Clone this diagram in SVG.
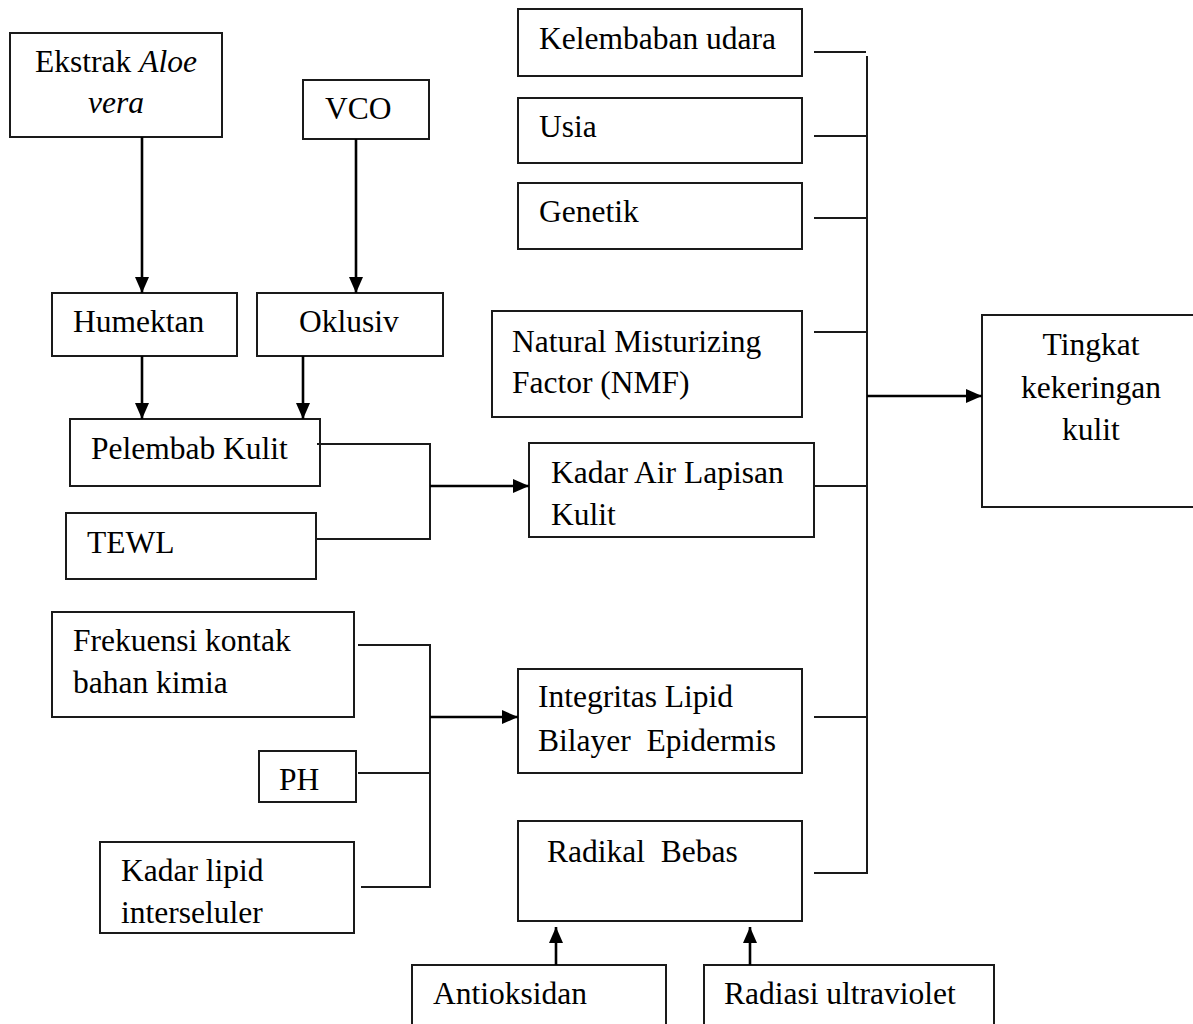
<svg xmlns="http://www.w3.org/2000/svg" width="1193" height="1024" viewBox="0 0 1193 1024">
<style>
.box{fill:#fff;stroke:#1a1a1a;stroke-width:2}
.t{font-family:"Liberation Serif","Times New Roman",serif;font-size:31.5px;fill:#000}
.c{fill:none;stroke:#1a1a1a;stroke-width:2}
.a{fill:none;stroke:#000;stroke-width:2.6;marker-end:url(#ah)}
</style>
<defs>
<marker id="ah" markerUnits="userSpaceOnUse" markerWidth="16" markerHeight="14" refX="16" refY="7" orient="auto">
<path d="M0,0 L16,7 L0,14 z" fill="#000"/>
</marker>
</defs>
<rect width="1193" height="1024" fill="#fff"/>

<g id="ekstrak"><rect class="box" x="10" y="33" width="212" height="104"/><text class="t" x="116" y="72" text-anchor="middle">Ekstrak <tspan font-style="italic">Aloe</tspan></text><text class="t" x="116" y="113" text-anchor="middle" font-style="italic">vera</text></g>
<g id="vco"><rect class="box" x="303" y="80" width="126" height="59"/><text class="t" x="325" y="119">VCO</text></g>
<g id="humektan"><rect class="box" x="52" y="293" width="185" height="63"/><text class="t" x="73" y="332">Humektan</text></g>
<g id="oklusiv"><rect class="box" x="257" y="293" width="186" height="63"/><text class="t" x="299" y="332">Oklusiv</text></g>
<g id="pelembab"><rect class="box" x="70" y="419" width="250" height="67"/><text class="t" x="91" y="459">Pelembab Kulit</text></g>
<g id="tewl"><rect class="box" x="66" y="513" width="250" height="66"/><text class="t" x="87" y="553">TEWL</text></g>
<g id="frekuensi"><rect class="box" x="52" y="612" width="302" height="105"/><text class="t" x="73" y="651">Frekuensi kontak</text><text class="t" x="73" y="693">bahan kimia</text></g>
<g id="ph"><rect class="box" x="259" y="751" width="97" height="51"/><text class="t" x="279" y="790">PH</text></g>
<g id="kadarlipid"><rect class="box" x="100" y="842" width="254" height="91"/><text class="t" x="121" y="881">Kadar lipid</text><text class="t" x="121" y="923">interseluler</text></g>
<g id="kelembaban"><rect class="box" x="518" y="9" width="284" height="67"/><text class="t" x="539" y="49">Kelembaban udara</text></g>
<g id="usia"><rect class="box" x="518" y="98" width="284" height="65"/><text class="t" x="539" y="137">Usia</text></g>
<g id="genetik"><rect class="box" x="518" y="183" width="284" height="66"/><text class="t" x="539" y="222">Genetik</text></g>
<g id="nmf"><rect class="box" x="492" y="311" width="310" height="106"/><text class="t" x="512" y="352">Natural Misturizing</text><text class="t" x="512" y="393">Factor (NMF)</text></g>
<g id="kadarair"><rect class="box" x="529" y="443" width="285" height="94"/><text class="t" x="551" y="483">Kadar Air Lapisan</text><text class="t" x="551" y="525">Kulit</text></g>
<g id="integritas"><rect class="box" x="518" y="669" width="284" height="104"/><text class="t" x="538" y="707">Integritas Lipid</text><text class="t" x="538" y="751" xml:space="preserve">Bilayer  Epidermis</text></g>
<g id="radikal"><rect class="box" x="518" y="821" width="284" height="100"/><text class="t" x="547" y="862" xml:space="preserve">Radikal  Bebas</text></g>
<g id="antioksidan"><rect class="box" x="412" y="965" width="254" height="70"/><text class="t" x="433" y="1004">Antioksidan</text></g>
<g id="radiasi"><rect class="box" x="704" y="965" width="290" height="70"/><text class="t" x="724" y="1004">Radiasi ultraviolet</text></g>
<g id="tingkat"><rect class="box" x="982" y="315" width="220" height="192"/><text class="t" x="1091" y="355" text-anchor="middle">Tingkat</text><text class="t" x="1091" y="398" text-anchor="middle">kekeringan</text><text class="t" x="1091" y="440" text-anchor="middle">kulit</text></g>

<g id="connectors">
<line class="a" x1="142" y1="137" x2="142" y2="293"/>
<line class="a" x1="356" y1="139" x2="356" y2="293"/>
<line class="a" x1="142" y1="356" x2="142" y2="419"/>
<line class="a" x1="303" y1="356" x2="303" y2="419"/>
<polyline class="c" points="317,444 430,444 430,539 316,539"/>
<line class="a" x1="430" y1="486" x2="529" y2="486"/>
<polyline class="c" points="358,645 430,645 430,887 361,887"/>
<line class="c" x1="358" y1="773" x2="430" y2="773"/>
<line class="a" x1="430" y1="717" x2="518" y2="717"/>
<line class="c" x1="814" y1="52" x2="866" y2="52"/>
<polyline class="c" points="867,56 867,873 814,873"/>
<line class="c" x1="814" y1="136" x2="867" y2="136"/>
<line class="c" x1="814" y1="218" x2="867" y2="218"/>
<line class="c" x1="814" y1="332" x2="867" y2="332"/>
<line class="c" x1="814" y1="486" x2="867" y2="486"/>
<line class="c" x1="814" y1="717" x2="867" y2="717"/>
<line class="a" x1="867" y1="396" x2="982" y2="396"/>
<line class="a" x1="556" y1="965" x2="556" y2="927"/>
<line class="a" x1="750" y1="965" x2="750" y2="927"/>
</g>
</svg>
